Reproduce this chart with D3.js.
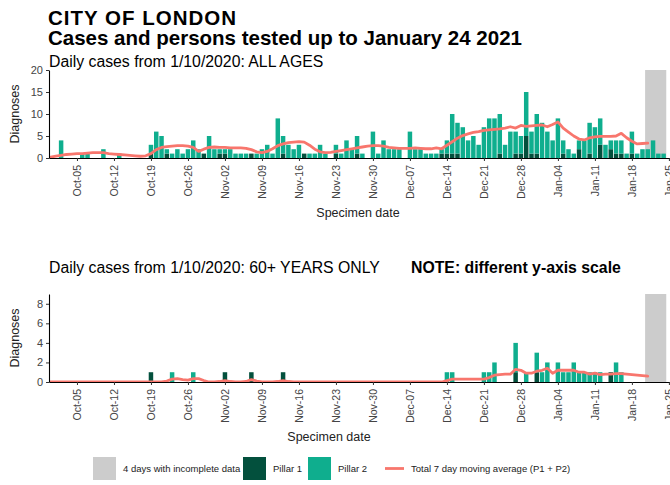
<!DOCTYPE html>
<html>
<head>
<meta charset="utf-8">
<script src="https://cdn.jsdelivr.net/npm/d3@7"></script>
<style>
  body { margin: 0; background: #fff; }
  svg { display: block; font-family: "Liberation Sans", Arial, sans-serif; }
</style>
</head>
<body>
<svg width="670" height="485"></svg>
<script>
// day 0 of the bar arrays = 1 Oct 2020
const startDay = Date.UTC(2020, 9, 1);

// all ages, daily cases by pillar
const allP1 = [
    0,0,0,0,0,0,0,0,0,0, 0,0,0,0,0,0,0,0,1,0,
    0,1,0,0,0,0,0,0,1,0, 0,1,1,0,0,0,0,1,0,0,
    0,0,0,1,0,0,0,1,0,0, 0,0,0,1,0,0,0,1,0,0,
    0,0,0,0,0,0,0,0,0,0, 0,0,0,1,1,1,1,0,0,0,
    0,0,0,0,1,0,0,1,1,5, 1,1,0,0,0,0,1,0,0,2,
    0,1,0,3,0,2,1,1,0,1, 0,0,0,0,0,0
];
const allP2 = [
    0,4,0,0,0,1,1,0,0,2, 0,0,1,0,0,0,0,0,2,6,
    5,1,1,2,1,2,4,2,0,5, 2,1,1,2,1,1,1,0,1,2,
    3,1,9,4,3,2,3,0,1,1, 3,1,0,2,1,4,2,4,1,0,
    6,1,4,2,2,2,0,6,2,2, 1,1,1,1,3,9,7,7,4,5,
    3,7,9,9,9,3,6,5,4,10, 5,9,8,6,4,9,3,2,1,2,
    4,7,7,6,3,2,3,3,1,5, 1,2,2,4,1,1
];
// 60+ only
const oldP1 = [
    0,0,0,0,0,0,0,0,0,0, 0,0,0,0,0,0,0,0,1,0,
    0,0,0,0,0,0,0,0,0,0, 0,0,1,0,0,0,0,1,0,0,
    0,0,0,1,0,0,0,0,0,0, 0,0,0,0,0,0,0,0,0,0,
    0,0,0,0,0,0,0,0,0,0, 0,0,0,0,0,0,0,0,0,0,
    0,0,0,0,0,0,0,1,0,0, 0,1,0,0,0,0,0,0,0,0,
    0,0,0,0,0,1,0,0,0,0, 0,0,0,0,0,0
];
const oldP2 = [
    0,0,0,0,0,0,0,0,0,0, 0,0,0,0,0,0,0,0,0,0,
    0,0,1,0,0,0,1,0,0,0, 0,0,0,0,0,0,0,0,0,0,
    0,0,0,0,0,0,0,0,0,0, 0,0,0,0,0,0,0,0,0,0,
    0,0,0,0,0,0,0,0,0,0, 0,0,0,0,1,1,0,0,0,0,
    0,1,1,2,0,0,0,3,0,1, 0,2,1,2,0,2,1,1,2,1,
    1,1,1,1,0,0,2,1,0,0, 0,0,0,0,0,0
];

// 7 day moving averages, 30 Sep 2020 .. 21 Jan 2021
const allAvg = [
    0.2,0.4,0.6,0.8,0.9,1.0,1.0,1.1,1.2,1.2,
    1.2,1.0,0.9,0.8,0.7,0.6,0.5,0.4,0.5,1.0,
    1.9,2.4,2.6,2.7,2.8,2.8,2.7,2.4,1.5,2.0,
    2.4,2.5,2.4,2.4,2.3,2.3,2.3,2.2,1.9,1.4,
    1.2,1.5,2.1,2.8,3.2,3.5,3.6,3.7,3.6,2.9,
    2.0,1.4,1.2,1.3,1.5,1.7,1.9,2.1,2.3,2.5,
    2.7,2.8,2.8,2.7,2.4,2.3,2.2,2.2,2.2,2.3,
    2.2,2.1,2.1,2.3,2.1,2.9,3.7,4.5,5.1,5.5,
    5.8,6.0,6.3,6.4,6.5,6.6,6.8,7.1,6.8,7.4,
    7.2,7.3,7.4,7.5,7.1,7.6,8.2,6.8,5.9,5.0,
    4.3,4.1,4.6,4.8,4.9,4.9,4.9,5.0,5.6,4.6,
    3.8,3.2,3.3,3.4
];
const oldAvg = [
    0,0,0,0,0,0,0,0,0,0,
    0,0,0,0,0,0,0,0,0,0,
    0,0,0.1,0.3,0.35,0.25,0.2,0.35,0.35,0.15,
    0,0,0.05,0.15,0.05,0,0,0.05,0.25,0.1,
    0,0,0,0.05,0.15,0.05,0,0,0,0,
    0,0,0,0,0,0,0,0,0,0,
    0,0,0,0,0,0,0,0,0,0,
    0,0,0,0,0,0.15,0.3,0.3,0.3,0.3,
    0.3,0.3,0.3,0.45,0.7,0.75,0.8,0.8,1.3,1.2,
    0.9,0.9,1.1,1.2,1.4,0.9,1.2,1.2,1.2,1.2,
    1.0,1.0,0.8,0.9,0.75,0.8,0.8,0.85,0.85,0.8,
    0.75,0.7,0.65,0.6
];

const incompleteDays = ["2021-01-21", "2021-01-22", "2021-01-23", "2021-01-24"];
const tickDays = [
    "2020-10-05", "2020-10-12", "2020-10-19", "2020-10-26", "2020-11-02",
    "2020-11-09", "2020-11-16", "2020-11-23", "2020-11-30", "2020-12-07",
    "2020-12-14", "2020-12-21", "2020-12-28", "2021-01-04", "2021-01-11",
    "2021-01-18", "2021-01-25"
];
const topTicks = [0, 5, 10, 15, 20];
const bottomTicks = [0, 2, 4, 6, 8];

const colours = {
    grey: "#cccccc",
    pillar1: "#03503d",
    pillar2: "#0fae8e",
    avg: "#f8766d",
    tick: "#444444"
};

const svg = d3.select("svg");
const dayOf = i => new Date(startDay + i * 864e5);

const x = d3.scaleUtc()
    .domain([new Date(Date.UTC(2020, 8, 29, 17)), new Date(Date.UTC(2021, 0, 25, 5))])
    .range([49, 670]);
const halfDay = (x(dayOf(1)) - x(dayOf(0))) / 2;

function drawPanel(name, p1, p2, avg, top, bottom, yMax, yTicks, xTitleX) {
    const y = d3.scaleLinear().domain([0, yMax]).range([bottom, top]);
    const g = svg.append("g");

    g.append("clipPath").attr("id", "clip-" + name)
        .append("rect")
        .attr("x", 49).attr("y", top)
        .attr("width", 621).attr("height", bottom - top);

    const g0 = new Date(incompleteDays[0]);
    const g1 = d3.utcDay.offset(new Date(incompleteDays[incompleteDays.length - 1]), 1);
    g.append("rect")
        .attr("x", x(g0) - halfDay)
        .attr("width", x(g1) - x(g0))
        .attr("y", y(yMax))
        .attr("height", y(0) - y(yMax))
        .attr("fill", colours.grey);

    const days = d3.range(p1.length).map(i => ({date: dayOf(i), p1: p1[i], p2: p2[i]}));
    const bw = 2 * halfDay - 0.8;

    g.selectAll(".p1").data(days.filter(d => d.p1 > 0)).join("rect")
        .attr("class", "p1")
        .attr("x", d => x(d.date) - bw / 2)
        .attr("width", bw)
        .attr("y", d => y(d.p1))
        .attr("height", d => y(0) - y(d.p1))
        .attr("fill", colours.pillar1);

    g.selectAll(".p2").data(days.filter(d => d.p2 > 0)).join("rect")
        .attr("class", "p2")
        .attr("x", d => x(d.date) - bw / 2)
        .attr("width", bw)
        .attr("y", d => y(d.p1 + d.p2))
        .attr("height", d => y(d.p1) - y(d.p1 + d.p2))
        .attr("fill", colours.pillar2);

    const line = d3.line()
        .x((d, i) => x(dayOf(i - 1)))
        .y(d => y(d));
    g.append("path")
        .datum(avg)
        .attr("clip-path", `url(#clip-${name})`)
        .attr("fill", "none")
        .attr("stroke", colours.avg)
        .attr("stroke-width", 2.8)
        .attr("stroke-linejoin", "round")
        .attr("stroke-linecap", "round")
        .attr("d", line);

    const yAxis = g.append("g")
        .attr("transform", "translate(49,0)")
        .call(d3.axisLeft(y).tickValues(yTicks).tickSize(3).tickPadding(3).tickSizeOuter(0));
    yAxis.selectAll("text").attr("font-size", 11).attr("fill", colours.tick);

    const xAxis = g.append("g")
        .attr("transform", `translate(0,${bottom})`)
        .call(d3.axisBottom(x)
            .tickValues(tickDays.map(d => new Date(d)))
            .tickFormat(d3.utcFormat("%b-%d"))
            .tickSize(3)
            .tickSizeOuter(0));
    xAxis.selectAll("text")
        .attr("transform", "rotate(-90)")
        .attr("text-anchor", "end")
        .attr("x", -7)
        .attr("y", 0)
        .attr("dy", "0.35em")
        .attr("font-size", 10.5)
        .attr("fill", colours.tick);

    [yAxis, xAxis].forEach(a => {
        a.select(".domain").attr("stroke", "#000").attr("stroke-width", 1.1);
        a.selectAll(".tick line").attr("stroke", "#333");
        a.attr("font-family", null);
    });

    g.append("text")
        .attr("transform", `translate(19,${(top + bottom) / 2}) rotate(-90)`)
        .attr("text-anchor", "middle")
        .attr("font-size", 12.5)
        .attr("fill", "#222")
        .text("Diagnoses");

    g.append("text")
        .attr("x", xTitleX)
        .attr("y", bottom + 59)
        .attr("text-anchor", "middle")
        .attr("font-size", 12.5)
        .attr("fill", "#222")
        .text("Specimen date");
}

// titles
svg.append("text").attr("x", 48).attr("y", 25)
    .attr("font-size", 20.5).attr("font-weight", "bold")
    .attr("letter-spacing", 1)
    .text("CITY OF LONDON");
svg.append("text").attr("x", 48).attr("y", 45)
    .attr("font-size", 20.5).attr("font-weight", "bold")
    .text("Cases and persons tested up to January 24 2021");

svg.append("text").attr("x", 49).attr("y", 67)
    .attr("font-size", 15.8)
    .text("Daily cases from 1/10/2020: ALL AGES");
drawPanel("all", allP1, allP2, allAvg, 70, 158, 20, topTicks, 358);

svg.append("text").attr("x", 49).attr("y", 273)
    .attr("font-size", 15.8)
    .text("Daily cases from 1/10/2020: 60+ YEARS ONLY");
svg.append("text").attr("x", 411).attr("y", 273)
    .attr("font-size", 15.8).attr("font-weight", "bold")
    .text("NOTE: different y-axis scale");
drawPanel("old", oldP1, oldP2, oldAvg, 294, 382, 9, bottomTicks, 329);

// legend
const legendItems = [
    {label: "4 days with incomplete data", colour: colours.grey, x: 93, kind: "box"},
    {label: "Pillar 1", colour: colours.pillar1, x: 243, kind: "box"},
    {label: "Pillar 2", colour: colours.pillar2, x: 308, kind: "box"},
    {label: "Total 7 day moving average (P1 + P2)", colour: colours.avg, x: 384, kind: "line"}
];
const legend = svg.append("g");
legendItems.forEach(d => {
    if (d.kind === "box") {
        legend.append("rect")
            .attr("x", d.x).attr("y", 457)
            .attr("width", 23).attr("height", 23)
            .attr("fill", d.colour);
    } else {
        legend.append("line")
            .attr("x1", d.x + 1).attr("x2", d.x + 20)
            .attr("y1", 468.5).attr("y2", 468.5)
            .attr("stroke", d.colour).attr("stroke-width", 2.8);
    }
    legend.append("text")
        .attr("x", d.x + (d.kind === "box" ? 30 : 27))
        .attr("y", 472)
        .attr("font-size", 9.5)
        .attr("fill", "#222")
        .text(d.label);
});
</script>
</body>
</html>
